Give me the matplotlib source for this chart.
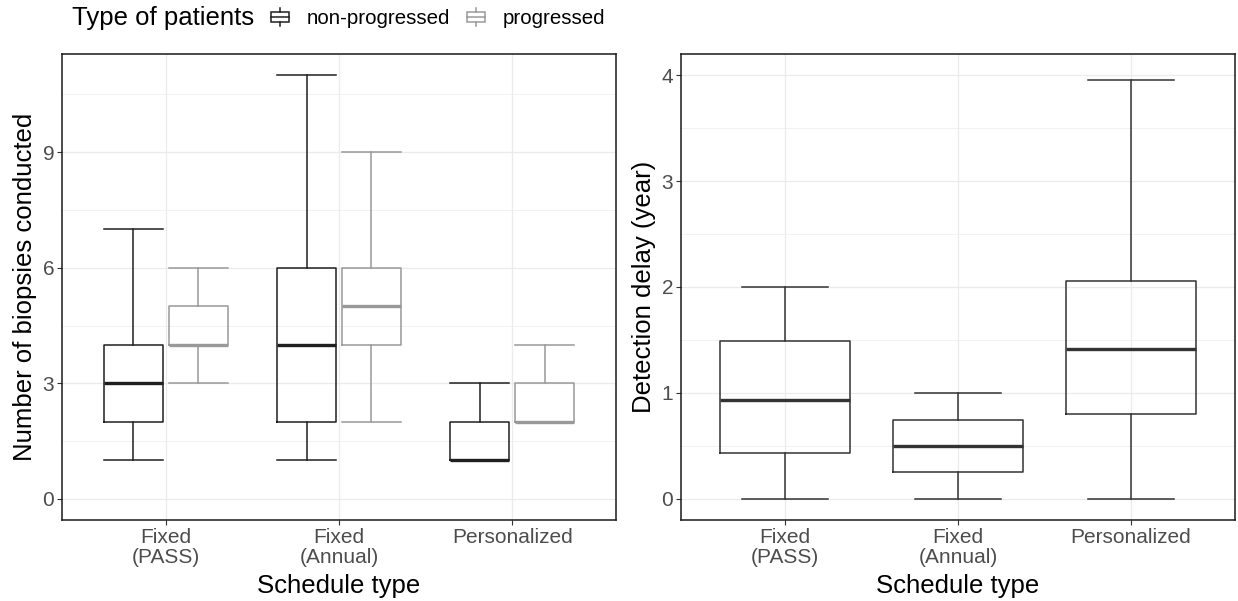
import numpy as np
import matplotlib.pyplot as plt
from matplotlib.legend_handler import HandlerBase
from matplotlib.lines import Line2D
from matplotlib.patches import Rectangle
from matplotlib.ticker import MultipleLocator

plt.rcParams['font.family'] = ['Liberation Sans', 'DejaVu Sans']

schedules = ['Fixed\n(PASS)', 'Fixed\n(Annual)', 'Personalized']
patient_types = ['non-progressed', 'progressed']
type_colors = ['#1f1f1f', '#999999']

# (whislo, q1, median, q3, whishi) for each schedule
biopsies_nonprog = [(1, 2, 3, 4, 7), (1, 2, 4, 6, 11), (1, 1, 1, 2, 3)]
biopsies_prog = [(3, 4, 4, 5, 6), (2, 4, 5, 6, 9), (2, 2, 2, 3, 4)]
delay_years = [(0, 0.43, 0.93, 1.49, 2.0),
               (0, 0.25, 0.50, 0.74, 1.0),
               (0, 0.80, 1.41, 2.06, 3.95)]

LW = 1.1


def to_stats(rows):
    return [dict(whislo=r[0], q1=r[1], med=r[2], q3=r[3], whishi=r[4], fliers=[])
            for r in rows]


def draw_boxes(ax, rows, positions, width, capwidth, color):
    line = dict(color=color, linewidth=LW)
    ax.bxp(to_stats(rows), positions=positions, widths=width,
           capwidths=capwidth, showfliers=False, manage_ticks=False,
           boxprops=line, whiskerprops=line, capprops=line,
           medianprops=dict(color=color, linewidth=2.2 * LW))


def style_axes(ax, ylim, major, ylabel):
    ax.set_xlim(0.4, 3.6)
    ax.set_ylim(*ylim)
    ax.set_xticks([1, 2, 3])
    ax.set_xticklabels(schedules, linespacing=1.08)
    ax.yaxis.set_major_locator(MultipleLocator(major))
    ax.yaxis.set_minor_locator(MultipleLocator(major / 2))
    ax.xaxis.set_minor_locator(plt.NullLocator())
    ax.grid(which='major', color='#ebebeb', linewidth=0.9)
    ax.grid(which='minor', axis='y', color='#ebebeb', linewidth=0.45)
    ax.set_axisbelow(True)
    ax.tick_params(which='major', length=3.5, width=0.8, color='#333333',
                   labelsize=15, labelcolor='#4d4d4d', pad=2)
    ax.tick_params(which='minor', length=0)
    for s in ax.spines.values():
        s.set_color('#1a1a1a')
        s.set_linewidth(1.1)
    ax.set_xlabel('Schedule type', fontsize=18.5, labelpad=5)
    ax.set_ylabel(ylabel, fontsize=18.5, labelpad=4)


class BoxKey(HandlerBase):
    def create_artists(self, legend, orig_handle, xdescent, ydescent,
                       width, height, fontsize, trans):
        c = orig_handle.get_color()
        x0, y0 = -xdescent, -ydescent
        cx = x0 + width / 2
        box = Rectangle((x0, y0 + 0.24 * height), width, 0.56 * height,
                        fill=False, edgecolor=c, linewidth=LW, transform=trans)
        lo = Line2D([cx, cx], [y0, y0 + 0.24 * height], color=c, lw=LW, transform=trans)
        hi = Line2D([cx, cx], [y0 + 0.8 * height, y0 + height], color=c, lw=LW, transform=trans)
        med = Line2D([x0, x0 + width], [y0 + 0.52 * height] * 2, color=c, lw=LW, transform=trans)
        return [box, lo, hi, med]


fig = plt.figure(figsize=(12.38, 6.01), dpi=100)
ax1 = fig.add_axes([62 / 1238, 81 / 601, 554 / 1238, 466 / 601])
ax2 = fig.add_axes([681 / 1238, 81 / 601, 554 / 1238, 466 / 601])

pos = np.arange(1, len(schedules) + 1)
dodge = 0.1875
bw = 0.3375
draw_boxes(ax1, biopsies_nonprog, pos - dodge, bw, bw, type_colors[0])
draw_boxes(ax1, biopsies_prog, pos + dodge, bw, bw, type_colors[1])
style_axes(ax1, (-0.55, 11.55), 3, 'Number of biopsies conducted')

draw_boxes(ax2, delay_years, pos, 0.75, 0.5, '#333333')
style_axes(ax2, (-0.2, 4.2), 1, 'Detection delay (year)')

fig.text(72 / 1238, 1 - 18 / 601, 'Type of patients', fontsize=18.5,
         va='center', ha='left')
handles = [Line2D([], [], color=c) for c in type_colors]
fig.legend(handles, patient_types, handler_map={Line2D: BoxKey()},
           loc='center left', bbox_to_anchor=(271 / 1238, 1 - 18 / 601),
           ncol=2, frameon=False, fontsize=14.8, borderpad=0,
           borderaxespad=0, handlelength=0.87, handleheight=1.0,
           handletextpad=0.87, columnspacing=0.83)

fig.savefig('out.png', dpi=100)
